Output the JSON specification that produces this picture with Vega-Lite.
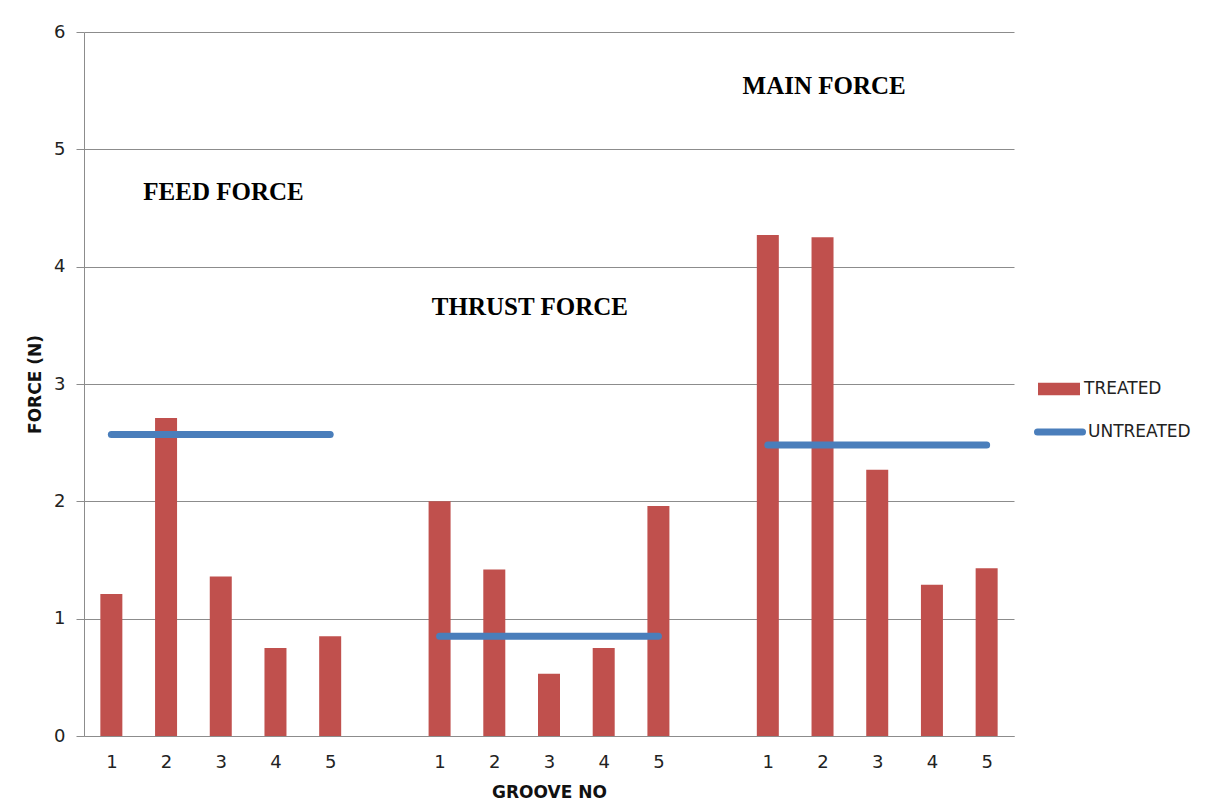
{
  "$schema": "https://vega.github.io/schema/vega-lite/v6.json",
  "width": 930,
  "height": 704,
  "autosize": {"type": "none"},
  "padding": {"left": 84, "top": 32, "right": 203, "bottom": 75},
  "background": "white",
  "config": {
    "view": {"stroke": null},
    "font": "DejaVu Sans",
    "axis": {
      "labelFont": "DejaVu Sans",
      "labelFontSize": 18,
      "labelColor": "#222222",
      "titleFont": "DejaVu Sans",
      "titleFontSize": 17,
      "titleFontWeight": "bold",
      "titleColor": "#111111",
      "domainColor": "#8c8c8c",
      "gridColor": "#8c8c8c",
      "tickColor": "#8c8c8c"
    }
  },
  "datasets": {
    "treated": [
      {"force": "FEED", "groove": 1, "slot": 1, "value": 1.21, "series": "TREATED"},
      {"force": "FEED", "groove": 2, "slot": 2, "value": 2.71, "series": "TREATED"},
      {"force": "FEED", "groove": 3, "slot": 3, "value": 1.36, "series": "TREATED"},
      {"force": "FEED", "groove": 4, "slot": 4, "value": 0.75, "series": "TREATED"},
      {"force": "FEED", "groove": 5, "slot": 5, "value": 0.85, "series": "TREATED"},
      {"force": "THRUST", "groove": 1, "slot": 7, "value": 2.0, "series": "TREATED"},
      {"force": "THRUST", "groove": 2, "slot": 8, "value": 1.42, "series": "TREATED"},
      {"force": "THRUST", "groove": 3, "slot": 9, "value": 0.53, "series": "TREATED"},
      {"force": "THRUST", "groove": 4, "slot": 10, "value": 0.75, "series": "TREATED"},
      {"force": "THRUST", "groove": 5, "slot": 11, "value": 1.96, "series": "TREATED"},
      {"force": "MAIN", "groove": 1, "slot": 13, "value": 4.27, "series": "TREATED"},
      {"force": "MAIN", "groove": 2, "slot": 14, "value": 4.25, "series": "TREATED"},
      {"force": "MAIN", "groove": 3, "slot": 15, "value": 2.27, "series": "TREATED"},
      {"force": "MAIN", "groove": 4, "slot": 16, "value": 1.29, "series": "TREATED"},
      {"force": "MAIN", "groove": 5, "slot": 17, "value": 1.43, "series": "TREATED"}
    ],
    "untreated": [
      {"force": "FEED", "slot_start": 1, "slot_end": 5, "value": 2.57, "series": "UNTREATED"},
      {"force": "THRUST", "slot_start": 7, "slot_end": 11, "value": 0.85, "series": "UNTREATED"},
      {"force": "MAIN", "slot_start": 13, "slot_end": 17, "value": 2.48, "series": "UNTREATED"}
    ],
    "labels": [
      {"label": "FEED FORCE", "slot": 3.05, "value": 4.64},
      {"label": "THRUST FORCE", "slot": 8.65, "value": 3.66},
      {"label": "MAIN FORCE", "slot": 14.03, "value": 5.54}
    ]
  },
  "layer": [
    {
      "data": {"name": "treated"},
      "mark": {"type": "bar", "size": 22},
      "encoding": {
        "x": {
          "field": "slot",
          "type": "quantitative",
          "scale": {"domain": [0.5, 17.5], "nice": false, "zero": false, "padding": 0},
          "axis": {
            "title": "GROOVE NO",
            "values": [1, 2, 3, 4, 5, 7, 8, 9, 10, 11, 13, 14, 15, 16, 17],
            "labelExpr": "((datum.value - 1) % 6) + 1",
            "ticks": false,
            "grid": false,
            "labelPadding": 17,
            "titlePadding": 13
          }
        },
        "y": {
          "field": "value",
          "type": "quantitative",
          "scale": {"domain": [0, 6], "nice": false},
          "axis": {
            "title": "FORCE (N)",
            "values": [0, 1, 2, 3, 4, 5, 6],
            "format": "d",
            "tickSize": 8,
            "labelPadding": 11,
            "titlePadding": 9,
            "grid": true
          }
        },
        "fill": {
          "field": "series",
          "type": "nominal",
          "scale": {"domain": ["TREATED"], "range": ["#C0504D"]},
          "legend": {
            "title": null,
            "orient": "none",
            "legendX": 954,
            "legendY": 336,
            "padding": 0,
            "symbolType": "M-1,-0.3H1V0.3H-1Z",
            "symbolSize": 1764,
            "symbolStrokeWidth": 0,
            "labelFont": "DejaVu Sans",
            "labelFontSize": 17,
            "labelColor": "#222222",
            "labelOffset": 4
          }
        }
      }
    },
    {
      "data": {"name": "untreated"},
      "mark": {"type": "rule", "strokeWidth": 7, "strokeCap": "round"},
      "encoding": {
        "x": {"field": "slot_start", "type": "quantitative"},
        "x2": {"field": "slot_end"},
        "y": {"field": "value", "type": "quantitative"},
        "stroke": {
          "field": "series",
          "type": "nominal",
          "scale": {"domain": ["UNTREATED"], "range": ["#4A7EBB"]},
          "legend": {
            "title": null,
            "orient": "none",
            "legendX": 950,
            "legendY": 374,
            "padding": 0,
            "symbolType": "stroke",
            "symbolSize": 2025,
            "symbolStrokeWidth": 7,
            "labelFont": "DejaVu Sans",
            "labelFontSize": 17,
            "labelColor": "#222222",
            "labelOffset": 2,
            "encode": {"symbols": {"update": {"strokeCap": {"value": "round"}}}}
          }
        }
      }
    },
    {
      "data": {"name": "labels"},
      "mark": {
        "type": "text",
        "font": "Liberation Serif",
        "fontWeight": "bold",
        "fontSize": 25,
        "color": "#000000",
        "align": "center",
        "baseline": "middle"
      },
      "encoding": {
        "x": {"field": "slot", "type": "quantitative"},
        "y": {"field": "value", "type": "quantitative"},
        "text": {"field": "label", "type": "nominal"}
      }
    }
  ]
}
